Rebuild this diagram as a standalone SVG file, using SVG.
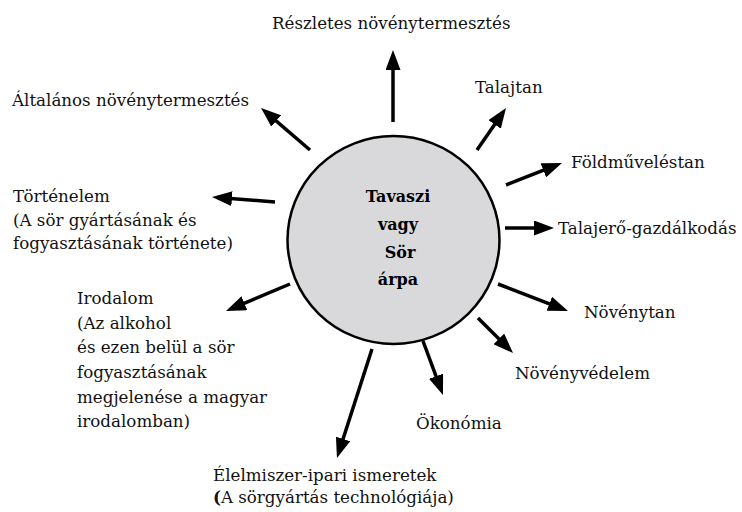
<svg xmlns="http://www.w3.org/2000/svg" width="742" height="512" viewBox="0 0 742 512">
<defs>
<marker id="ah" markerUnits="userSpaceOnUse" markerWidth="20" markerHeight="15" refX="14" refY="7.5" orient="auto">
<path d="M0,0 L20,7.5 L0,15 z" fill="#000"/>
</marker>
<style>
.lbl{font-size:16.7px;fill:#111}
.ctr{font-size:16px;font-weight:bold;fill:#000;text-anchor:middle}
.arr{stroke:#000;stroke-width:3.5;fill:none;marker-end:url(#ah)}
</style>
</defs>
<rect width="742" height="512" fill="#fff"/>
<g id="connectors">
<line class="arr" x1="393" y1="122" x2="393" y2="56"/>
<line class="arr" x1="477" y1="150" x2="502.6" y2="112.9"/>
<line class="arr" x1="506" y1="185" x2="556.4" y2="165.2"/>
<line class="arr" x1="505" y1="228" x2="548" y2="228"/>
<line class="arr" x1="498" y1="284" x2="562.4" y2="308.8"/>
<line class="arr" x1="478" y1="318" x2="508.8" y2="348.8"/>
<line class="arr" x1="423" y1="341" x2="440.9" y2="389.4"/>
<line class="arr" x1="372" y1="349" x2="338.8" y2="452.3"/>
<line class="arr" x1="290" y1="284" x2="231.5" y2="308.7"/>
<line class="arr" x1="275" y1="202" x2="218" y2="197.5"/>
<line class="arr" x1="310" y1="150" x2="265.6" y2="111.9"/>
</g>
<g font-family="DejaVu Serif, serif">
<g id="center">
<ellipse cx="393.5" cy="240" rx="106" ry="104" fill="#d9d9db" stroke="#000" stroke-width="2.5"/>
<text class="ctr" x="398" y="202">Tavaszi</text>
<text class="ctr" x="398" y="230">vagy</text>
<text class="ctr" x="400" y="258">Sör</text>
<text class="ctr" x="398" y="285">árpa</text>
</g>
<g id="reszletes"><text class="lbl" x="272" y="29">Részletes növénytermesztés</text></g>
<g id="talajtan"><text class="lbl" x="475" y="93">Talajtan</text></g>
<g id="foldmuveles"><text class="lbl" x="571" y="168">Földműveléstan</text></g>
<g id="talajero"><text class="lbl" x="558" y="234">Talajerő-gazdálkodás</text></g>
<g id="novenytan"><text class="lbl" x="584" y="318">Növénytan</text></g>
<g id="novenyvedelem"><text class="lbl" x="515" y="379">Növényvédelem</text></g>
<g id="okonomia"><text class="lbl" x="416" y="429">Ökonómia</text></g>
<g id="elelmiszer"><text class="lbl" x="213" y="481">Élelmiszer-ipari ismeretek</text><text class="lbl" x="213" y="503"><tspan font-weight="bold">(</tspan>A sörgyártás technológiája)</text></g>
<g id="irodalom"><text class="lbl" x="77" y="304">Irodalom</text><text class="lbl" x="77" y="329">(Az alkohol</text><text class="lbl" x="77" y="353">és ezen belül a sör</text><text class="lbl" x="77" y="378">fogyasztásának</text><text class="lbl" x="77" y="403">megjelenése a magyar</text><text class="lbl" x="77" y="427">irodalomban)</text></g>
<g id="tortenelem"><text class="lbl" x="13" y="202">Történelem</text><text class="lbl" x="13" y="226">(A sör gyártásának és</text><text class="lbl" x="13" y="249">fogyasztásának története)</text></g>
<g id="altalanos"><text class="lbl" x="12" y="106">Általános növénytermesztés</text></g>
</g>
</svg>
